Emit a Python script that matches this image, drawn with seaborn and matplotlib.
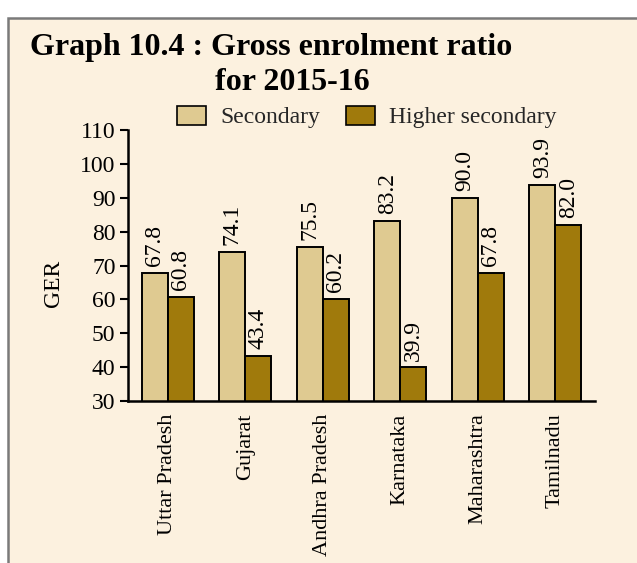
import matplotlib
matplotlib.use("Agg")
import matplotlib.pyplot as plt
from matplotlib.patches import Rectangle
import seaborn as sns
import pandas as pd

states = ["Uttar Pradesh", "Gujarat", "Andhra Pradesh", "Karnataka", "Maharashtra", "Tamilnadu"]
secondary = [67.8, 74.1, 75.5, 83.2, 90.0, 93.9]
higher_secondary = [60.8, 43.4, 60.2, 39.9, 67.8, 82.0]
series = ["Secondary", "Higher secondary"]
yticks = [30, 40, 50, 60, 70, 80, 90, 100, 110]

df = pd.DataFrame({
    "State": states * 2,
    "GER": secondary + higher_secondary,
    "Level": [series[0]] * len(states) + [series[1]] * len(states),
})

sns.set_theme(style="ticks")
plt.rcParams["font.family"] = ["Liberation Serif", "DejaVu Serif"]

BG = "#FCF1DF"
C_SEC = "#DFCA91"
C_HIGH = "#A07A0C"
FS = 17

fig = plt.figure(figsize=(6.37, 5.63), dpi=100)
fig.patch.set_facecolor("white")
W, H = 637, 563
frame = Rectangle((8 / W, -0.05), 1.2, (563 - 18) / H + 0.05, transform=fig.transFigure,
                  facecolor=BG, edgecolor="#7a7a7a", linewidth=1.8, zorder=-5)
fig.patches.append(frame)

ax = fig.add_axes([128 / W, 1 - 401 / H, (595 - 128) / W, (401 - 130) / H])
ax.set_facecolor("none")
ax.set_zorder(2)

sns.barplot(data=df, x="State", y="GER", hue="Level", order=states, hue_order=series,
            palette=[C_SEC, C_HIGH], width=0.67, gap=0, edgecolor="black",
            linewidth=1.4, saturation=1, ax=ax, legend=True)

for cont in ax.containers:
    ax.bar_label(cont, fmt="%.1f", rotation=90, padding=5, fontsize=FS, color="black")

ax.set_ylim(30, 110)
ax.set_xlim(-0.51, 5.51)
ax.set_yticks(yticks)
ax.set_yticklabels([str(v) for v in yticks], fontsize=FS, color="black")
ax.set_xticks(range(len(states)))
ax.set_xticklabels(states, rotation=90, fontsize=16, color="black")
ax.tick_params(axis="x", length=0, pad=9)
ax.tick_params(axis="y", length=6, width=1.5, color="black", pad=3, direction="out")
ax.set_xlabel("")
ax.set_ylabel("")
for s in ["top", "right"]:
    ax.spines[s].set_visible(False)
for s in ["left", "bottom"]:
    ax.spines[s].set_linewidth(1.8)
    ax.spines[s].set_color("black")

leg = ax.legend(loc="center left", bbox_to_anchor=(177 / W, 1 - 117 / H),
                bbox_transform=fig.transFigure, ncol=2, frameon=False,
                fontsize=FS, handlelength=1.23, handleheight=0.85, columnspacing=1.1,
                handletextpad=0.6, borderaxespad=0, borderpad=0)
for h in leg.legend_handles:
    h.set_edgecolor("black")
    h.set_linewidth(1.2)

fig.text(53 / W, 1 - 283 / H, "GER", rotation=90, fontsize=FS, ha="center", va="center",
         color="black")

fig.text(30 / W, 1 - 48 / H, "Graph 10.4 : Gross enrolment ratio", fontsize=23,
         fontweight="bold", ha="left", va="center", color="black")
fig.text(215 / W, 1 - 82 / H, "for 2015-16", fontsize=23,
         fontweight="bold", ha="left", va="center", color="black")

fig.savefig("out.png", dpi=100, facecolor=fig.get_facecolor())
